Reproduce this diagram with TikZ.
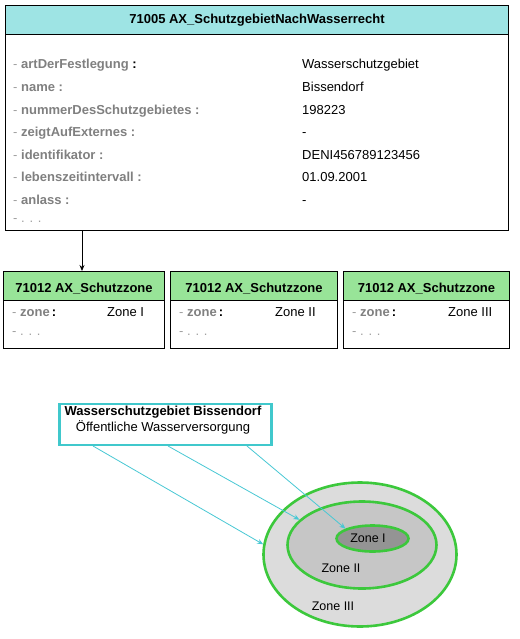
\documentclass[tikz,border=0pt]{standalone}
\usepackage{fontspec}
\setmainfont{Liberation Sans}
\usetikzlibrary{shapes.geometric,arrows.meta,calc}
\definecolor{headcyan}{RGB}{158,228,228}
\definecolor{headgreen}{RGB}{152,228,152}
\definecolor{legcyan}{RGB}{64,200,204}
\definecolor{arrcyan}{RGB}{72,200,212}
\definecolor{zgreen}{RGB}{60,200,60}
\definecolor{labgrey}{RGB}{128,128,128}
\definecolor{dashgrey}{RGB}{160,160,160}
\definecolor{gOuter}{RGB}{220,220,220}
\definecolor{gMid}{RGB}{198,198,198}
\definecolor{gInner}{RGB}{148,148,148}
\newcommand{\attr}[1]{{\color{dashgrey}-}~{\color{labgrey}\bfseries #1}}
\begin{document}
\begin{tikzpicture}[x=1pt,y=-1pt,
  txt/.style={inner sep=0pt,anchor=base west,font=\fontsize{13}{15}\selectfont},
  ttl/.style={inner sep=0pt,anchor=base,font=\fontsize{13}{15}\selectfont\bfseries},
  boxbody/.style={draw=black,line width=1pt,fill=white,inner sep=0pt,anchor=north west},
  cyanhead/.style={draw=black,line width=1pt,fill=headcyan,inner sep=0pt,anchor=north west},
  greenhead/.style={draw=black,line width=1pt,fill=headgreen,inner sep=0pt,anchor=north west},
  zone/.style={ellipse,draw=zgreen,line width=2.6pt,inner sep=0pt},
  zlab/.style={inner sep=0pt,font=\fontsize{12.5}{14}\selectfont},
  carrow/.style={draw=arrcyan,line width=0.8pt,-{Stealth[length=6pt,width=5pt]}}]
\useasboundingbox (0,0) rectangle (519,639);
\fill[white] (0,0) rectangle (519,639);
% main class box
\node[boxbody,minimum width=503pt,minimum height=225pt] (main) at (5,5) {};
\node[cyanhead,minimum width=503pt,minimum height=29pt] (mainhead) at (5,5) {};
\node[ttl] (maintitle) at (257,24) {71005 AX\_SchutzgebietNachWasserrecht};
\node[txt] (l1) at (13,68.3) {\attr{artDerFestlegung}~\textbf{:}};
\node[txt] (l2) at (13,91.3) {\attr{name :}};
\node[txt] (l3) at (13,114.3) {\attr{nummerDesSchutzgebietes :}};
\node[txt] (l4) at (13,137) {\attr{zeigtAufExternes :}};
\node[txt] (l5) at (13,159.5) {\attr{identifikator :}};
\node[txt] (l6) at (13,182) {\attr{lebenszeitintervall :}};
\node[txt] (l7) at (13,204.5) {\attr{anlass :}};
\node[txt] (l8) at (13,222) {\color{dashgrey}- . . .};
\node[txt] (v1) at (302,68.3) {Wasserschutzgebiet};
\node[txt] (v2) at (302,91.3) {Bissendorf};
\node[txt] (v3) at (302,114.3) {198223};
\node[txt] (v4) at (302,137) {-};
\node[txt] (v5) at (302,159.5) {DENI456789123456};
\node[txt] (v6) at (302,182) {01.09.2001};
\node[txt] (v7) at (302,204.5) {-};
% zone boxes
\foreach \i/\x/\w/\vx/\zn in {1/3/161/107/Zone I,2/170/167/275/Zone II,3/343/166/448/Zone III}{
  \node[boxbody,minimum width=\w pt,minimum height=77pt] (z\i) at (\x,271) {};
  \node[greenhead,minimum width=\w pt,minimum height=29pt] (zh\i) at (\x,271) {};
  \node[ttl] (zt\i) at ($(zh\i.center)+(0,6)$) {71012 AX\_Schutzzone};
  \node[txt] (za\i) at (\x+9,316.7) {\attr{zone}\,\textbf{:}};
  \node[txt] (zv\i) at (\vx,316.7) {\zn};
  \node[txt] (zd\i) at (\x+9,335) {\color{dashgrey}- . . .};
}
\draw[line width=0.8pt,-{Stealth[length=6pt,width=5pt]}] (main.south -| 82,0) -- (zh1.north -| 82,0);
% legend
\node[draw=legcyan,line width=2.5pt,fill=white,minimum width=212pt,minimum height=41pt,inner sep=0pt,anchor=north west] (legend) at (58,402.5) {};
\node[ttl] (leg1) at (163,415) {Wasserschutzgebiet Bissendorf};
\node[txt,anchor=base] (leg2) at (163,431) {Öffentliche Wasserversorgung};
% zones
\node[zone,fill=gOuter,minimum width=193pt,minimum height=144pt] (outer) at (360,554.5) {};
\node[zone,fill=gMid,minimum width=149pt,minimum height=87pt] (middle) at (362,545) {};
\node[zone,fill=gInner,minimum width=72pt,minimum height=26pt] (inner) at (372.5,538.5) {};
\node[zlab] (zl1) at (368,538.5) {Zone I};
\node[zlab] (zl2) at (341,568.5) {Zone II};
\node[zlab] (zl3) at (333,606.5) {Zone III};
% pointers
\coordinate (s1) at ([xshift=35pt]legend.south west);
\coordinate (s2) at ([xshift=110pt]legend.south west);
\coordinate (s3) at ([xshift=189pt]legend.south west);
\draw[carrow] (s1) -- (outer.174);
\draw[carrow] (s2) -- (middle.158);
\draw[carrow] (s3) -- (inner.160);
\end{tikzpicture}
\end{document}
